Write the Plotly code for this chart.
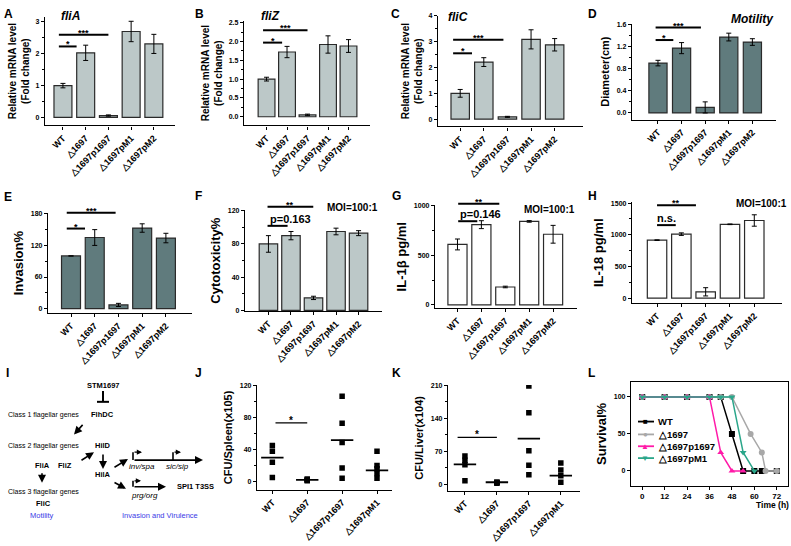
import plotly.graph_objects as go

W, H = 791, 546
FONT = "Liberation Sans, Arial, sans-serif"

# ---------------- data ----------------
strains5 = ["WT", "△1697", "△1697p1697", "△1697pM1", "△1697pM2"]
strains4 = ["WT", "△1697", "△1697p1697", "△1697pM1"]

fliA_mean = [1.00, 2.03, 0.06, 2.70, 2.31]
fliA_sd = [0.07, 0.24, 0.02, 0.32, 0.30]
fliZ_mean = [1.00, 1.72, 0.05, 1.92, 1.88]
fliZ_sd = [0.05, 0.15, 0.02, 0.23, 0.17]
fliC_mean = [1.00, 2.21, 0.09, 3.09, 2.88]
fliC_sd = [0.15, 0.17, 0.02, 0.37, 0.24]
motility_mean = [0.90, 1.17, 0.10, 1.37, 1.28]
motility_sd = [0.05, 0.10, 0.10, 0.07, 0.06]
invasion_mean = [100, 135, 7, 153, 134]
invasion_sd = [0, 15, 3, 8, 9]
cytotox_mean = [80, 90, 15, 95, 93]
cytotox_sd = [10, 5, 2, 4, 3]
il1b_mean = [610, 810, 180, 843, 713]
il1b_sd = [55, 40, 8, 8, 90]
il18_mean = [915, 1010, 100, 1165, 1225]
il18_sd = [5, 20, 65, 5, 90]

spleen_points = [[45, 38, 24, 5], [3, 2, 1, 2], [107, 73, 49, 17, 4], [38, 20, 16, 10, 4]]
spleen_mean = [30, 2, 52, 14]
liver_points = [[60, 51, 41, 7], [4, 3, 2, 4], [209, 152, 71, 40, 20], [45, 30, 18, 4]]
liver_mean = [42, 4, 97, 18]

surv_names = ["WT", "△1697", "△1697p1697", "△1697pM1"]
surv_hours = [
    [0, 12, 24, 36, 42, 48, 54, 60, 64, 72],
    [0, 12, 24, 36, 42, 48, 58, 64, 66, 72],
    [0, 12, 24, 36, 42, 48, 54],
    [0, 12, 24, 36, 42, 48, 54, 60],
]
surv_values = [
    [100, 100, 100, 100, 100, 50, 0, 0, 0, 0],
    [100, 100, 100, 100, 100, 100, 50, 25, 0, 0],
    [100, 100, 100, 100, 25, 0, 0],
    [100, 100, 100, 100, 100, 100, 25, 0],
]
surv_colors = ["#000000", "#a8a8a8", "#ff1aa8", "#2aa68a"]
surv_symbols = ["square", "circle", "triangle-up", "triangle-down"]

# ---------------- geometry (pixels) ----------------
geom = {
    "A": dict(x=(45, 175), y=(13, 123), xr=(-0.79, 4.93), yr=(-0.25, 3.16), bw=0.79),
    "B": dict(x=(244, 370), y=(17, 123), xr=(-1.1, 5.05), yr=(-0.23, 2.55), bw=0.82),
    "C": dict(x=(438, 583), y=(12, 124), xr=(-0.94, 5.2), yr=(-0.28, 4.0), bw=0.78),
    "D": dict(x=(632, 776), y=(20, 117), xr=(-1.1, 5.0), yr=(-0.118, 1.61), bw=0.77),
    "E": dict(x=(48, 192), y=(212, 313), xr=(-0.97, 5.1), yr=(-8.3, 181), bw=0.8),
    "F": dict(x=(245, 382), y=(209, 311), xr=(-1.04, 5.04), yr=(-0.8, 120.5), bw=0.82),
    "G": dict(x=(435, 577), y=(204, 308), xr=(-0.94, 5.0), yr=(-33, 1005), bw=0.8),
    "H": dict(x=(632, 782), y=(201, 303), xr=(-1.03, 5.14), yr=(-78, 1510), bw=0.8),
    "J": dict(x=(257, 392), y=(386, 492), xr=(-0.44, 3.43), yr=(-10.3, 121)),
    "K": dict(x=(448, 580), y=(386, 493), xr=(-0.53, 3.6), yr=(-14, 211)),
    "L": dict(x=(631, 788), y=(383, 488), xr=(-6, 78), yr=(-20, 120)),
}

fig = go.Figure()
layout = {}
ann = []
shp = []


def names(n):
    s = "" if n == 1 else str(n)
    return "x" + s, "y" + s, "xaxis" + s, "yaxis" + s


def to_paper(key, xv, yv):
    g = geom[key]
    x0, x1 = g["x"]
    yt, yb = g["y"]
    r0, r1 = g["xr"]
    s0, s1 = g["yr"]
    px = x0 + (xv - r0) / (r1 - r0) * (x1 - x0)
    py = yb - (yv - s0) / (s1 - s0) * (yb - yt)
    return px / W, 1 - py / H


def P(x, y):
    return x / W, 1 - y / H


def axes(n, key, cats, ytitle, ytsize, yticks, yfmt, minor, cat_axis=True, box=False):
    g = geom[key]
    xa, ya, xn, yn = names(n)
    xd = dict(domain=[g["x"][0] / W, g["x"][1] / W], range=list(g["xr"]), anchor=ya,
              showline=True, linecolor="black", linewidth=1.3, mirror=box,
              ticks="outside", ticklen=3, tickcolor="black", tickwidth=1,
              tickfont=dict(size=9, family=FONT, weight="bold", color="black"),
              showgrid=False, zeroline=False, fixedrange=True)
    if cat_axis:
        xd.update(type="category", categoryorder="array", categoryarray=cats, tickangle=-45)
    else:
        xd["tickfont"]["size"] = 8
    yd = dict(domain=[1 - g["y"][1] / H, 1 - g["y"][0] / H], range=list(g["yr"]), anchor=xa,
              showline=True, linecolor="black", linewidth=1.3, mirror=box,
              ticks="outside", ticklen=3, tickcolor="black", tickwidth=1,
              tickvals=yticks, tickformat=yfmt,
              tickfont=dict(size=7, family=FONT, weight="bold", color="black"),
              title=dict(text=ytitle, font=dict(size=ytsize, family=FONT, weight="bold", color="black"), standoff=4),
              showgrid=False, zeroline=False, fixedrange=True)
    if minor:
        yd["minor"] = dict(dtick=minor, ticklen=2, ticks="outside", tickcolor="black", showgrid=False)
    layout[xn] = xd
    layout[yn] = yd


def bar_panel(n, key, means, sds, color, ytitle, ytsize, yticks, yfmt, minor):
    g = geom[key]
    xa, ya, _, _ = names(n)
    fig.add_trace(go.Bar(
        x=strains5, y=means, width=g["bw"], xaxis=xa, yaxis=ya, showlegend=False,
        marker=dict(color=color, line=dict(color="#2a2a2a", width=1.2)),
        error_y=dict(type="data", array=sds, color="black", thickness=1, width=2.5)))
    axes(n, key, strains5, ytitle, ytsize, yticks, yfmt, minor)


def sig(key, label, x0, x1, y, size=9, anchor="center", lw=2.0, shift=-5):
    ax0, ay = to_paper(key, x0, y)
    ax1, _ = to_paper(key, x1, y)
    shp.append(dict(type="line", xref="paper", yref="paper", x0=ax0, x1=ax1, y0=ay, y1=ay,
                    line=dict(color="black", width=lw)))
    if label:
        xpos = (ax0 + ax1) / 2 if anchor == "center" else ax0
        ann.append(dict(text="<b>%s</b>" % label, xref="paper", yref="paper", x=xpos, y=ay,
                        xanchor=anchor, yanchor="bottom", yshift=shift, showarrow=False,
                        font=dict(size=size, family=FONT, color="black")))


def text(t, x, y, size=8, color="black", xanchor="center", yanchor="middle"):
    xx, yy = P(x, y)
    ann.append(dict(text=t, xref="paper", yref="paper", x=xx, y=yy, xanchor=xanchor, yanchor=yanchor,
                    showarrow=False, font=dict(size=size, family=FONT, color=color)))


LIGHT = "#bcc8c8"
DARK = "#607b7d"

# Row 1
bar_panel(1, "A", fliA_mean, fliA_sd, LIGHT, "Relative mRNA level<br>(Fold change)", 10, [0, 1, 2, 3], "d", 0.5)
bar_panel(2, "B", fliZ_mean, fliZ_sd, LIGHT, "Relative mRNA level<br>(Fold change)", 10, [0, 0.5, 1, 1.5, 2, 2.5], ".1f", 0.25)
bar_panel(3, "C", fliC_mean, fliC_sd, LIGHT, "Relative mRNA level<br>(Fold change)", 10, [0, 1, 2, 3, 4], "d", 0.5)
bar_panel(4, "D", motility_mean, motility_sd, DARK, "Diameter(cm)", 11, [0, 0.4, 0.8, 1.2, 1.6], ".1f", 0.2)
# Row 2
bar_panel(5, "E", invasion_mean, invasion_sd, DARK, "Invasion%", 13, [0, 60, 120, 180], "d", 30)
bar_panel(6, "F", cytotox_mean, cytotox_sd, LIGHT, "Cytotoxicity%", 13, [0, 40, 80, 120], "d", 20)
bar_panel(7, "G", il1b_mean, il1b_sd, "white", "IL-1β pg/ml", 13, [0, 500, 1000], "d", 250)
bar_panel(8, "H", il18_mean, il18_sd, "white", "IL-18 pg/ml", 13, [0, 500, 1000, 1500], "d", 250)

# significance marks
sig("A", "*", -0.18, 0.6, 2.23)
sig("A", "***", -0.18, 2.0, 2.6)
sig("B", "*", -0.17, 0.76, 1.97)
sig("B", "***", -0.17, 2.0, 2.3)
sig("C", "*", -0.3, 0.5, 2.55)
sig("C", "***", -0.3, 1.83, 3.07)
sig("D", "*", -0.1, 0.65, 1.316)
sig("D", "***", -0.1, 1.82, 1.54)
sig("E", "*", -0.18, 0.59, 152)
sig("E", "***", -0.18, 1.88, 182)
sig("F", "p=0.163", -0.04, 0.85, 101.8, size=11, anchor="left", shift=-1)
sig("F", "**", -0.04, 1.99, 124.7)
sig("G", "p=0.146", 0.03, 0.83, 845, size=11, anchor="left", shift=-1)
sig("G", "**", 0.03, 1.75, 1021)
sig("H", "n.s.", 0.0, 0.77, 1152, size=11, shift=-1)
sig("H", "**", 0.0, 1.6, 1464)

# Panel titles / notes
text("<b><i>fliA</i></b>", 70, 12, 12)
text("<b><i>fliZ</i></b>", 270, 12, 12)
text("<b><i>fliC</i></b>", 458, 13, 12)
text("<b><i>Motility</i></b>", 752, 15, 12)
text("<b>MOI=100:1</b>", 352, 206, 10)
text("<b>MOI=100:1</b>", 549, 208, 10)
text("<b>MOI=100:1</b>", 761, 202, 10)

# Panel letters
for lab, x, y in [("A", 8, 10), ("B", 200, 10), ("C", 395, 10), ("D", 592, 10),
                  ("E", 8, 195), ("F", 199, 194), ("G", 396, 194), ("H", 592, 194),
                  ("I", 7, 374), ("J", 199, 374), ("K", 396, 374), ("L", 591, 374)]:
    text("<b>%s</b>" % lab, x, y, 12)

# Row 3: J, K scatter
for n, key, pts, means, ytitle, yticks, minor in [
        (9, "J", spleen_points, spleen_mean, "CFU/Spleen(x105)", [0, 40, 80, 120], 20),
        (10, "K", liver_points, liver_mean, "CFU/Liver(x104)", [0, 70, 140, 210], 35)]:
    xa, ya, _, _ = names(n)
    for i, vals in enumerate(pts):
        fig.add_trace(go.Scatter(x=[strains4[i]] * len(vals), y=vals, mode="markers", xaxis=xa, yaxis=ya,
                                 showlegend=False,
                                 marker=dict(symbol="square", size=5.5, color="black")))
    fig.add_trace(go.Scatter(x=strains4, y=means, mode="markers", xaxis=xa, yaxis=ya, showlegend=False,
                             marker=dict(symbol="line-ew", size=16, line=dict(width=1.8, color="black"))))
    axes(n, key, strains4, ytitle, 11, yticks, "d", minor)

sig("J", "*", 0.09, 1.0, 73.6, size=10, lw=1.3, shift=-5)
sig("K", "*", -0.23, 1.0, 99.7, size=10, lw=1.3, shift=-5)

# Panel L: survival
for i in range(4):
    fig.add_trace(go.Scatter(x=surv_hours[i], y=surv_values[i], mode="lines+markers", name=surv_names[i],
                             xaxis="x11", yaxis="y11", showlegend=False,
                             line=dict(color=surv_colors[i], width=1.5),
                             marker=dict(symbol=surv_symbols[i], size=6, color=surv_colors[i])))
axes(11, "L", None, "Survival%", 13, [0, 50, 100], "d", None, cat_axis=False, box=True)
layout["xaxis11"].update(tickvals=[0, 12, 24, 36, 48, 60, 72])
text("<b>Time (h)</b>", 791, 507, 8.5, xanchor="right")

# manual legend for L
for i, (yy) in enumerate([423, 436, 448, 460]):
    x0, y0 = P(638, yy)
    x1, _ = P(654, yy)
    shp.append(dict(type="line", xref="paper", yref="paper", x0=x0, x1=x1, y0=y0, y1=y0,
                    line=dict(color=surv_colors[i], width=1.8)))
    glyph = ["■", "●", "▲", "▼"][i]
    text('<span style="color:%s">%s</span>' % (surv_colors[i], glyph), 645, yy, 8)
    text("<b>%s</b>" % surv_names[i], 656, yy, 9.5, xanchor="left")

# ---------------- Panel I: diagram ----------------
BLUE = "#3a3ae6"
text("<b>STM1697</b>", 103, 386, 7.5)
text("Class 1 flagellar genes", 43, 416, 7)
text("<b>FlhDC</b>", 102, 416, 7.5)
text("Class 2 flagellar genes", 43, 448, 7)
text("<b>HilD</b>", 103, 447, 7.5)
text("<b>FliA</b>", 42, 467, 7.5)
text("<b>FliZ</b>", 65, 467, 7.5)
text("<b>HilA</b>", 103, 477, 7.5)
text("Class 3 flagellar genes", 43, 494, 7)
text("<b>FliC</b>", 43, 506, 7.5)
text("Motility", 42, 518, 7.5, color=BLUE)
text("<i>inv/spa</i>", 142, 469, 8)
text("<i>sic/sip</i>", 177, 469, 8)
text("<i>prg/org</i>", 144, 498, 8)
text("<b>SPI1 T3SS</b>", 175, 489, 7.5, xanchor="left")
text("Invasion and Virulence", 160, 518, 7.5, color=BLUE)


def arrow(tx, ty, hx, hy, w=1.6, size=1.0):
    xx, yy = P(hx, hy)
    ann.append(dict(x=xx, y=yy, xref="paper", yref="paper", ax=tx - hx, ay=ty - hy, text="",
                    showarrow=True, arrowhead=2, arrowsize=size, arrowwidth=w, arrowcolor="black"))


def line(x0, y0, x1, y1, w=1.6):
    a, b = P(x0, y0)
    c, d = P(x1, y1)
    shp.append(dict(type="line", xref="paper", yref="paper", x0=a, y0=b, x1=c, y1=d,
                    line=dict(color="black", width=w)))


arrow(84, 425, 74, 436)
arrow(80, 463, 94, 454)
arrow(103, 455, 103, 471)
arrow(42, 474, 42, 485)
arrow(113, 470, 128, 461)
arrow(113, 484, 126, 491)
# inhibition T-bar
line(103, 392, 103, 403, 2)
line(97, 403, 109, 403, 2)
# promoters
line(133, 462, 133, 454)
arrow(133, 454, 142, 454, w=1.3, size=0.8)
line(173, 462, 173, 454)
arrow(173, 454, 181, 454, w=1.3, size=0.8)
arrow(133, 462, 203, 462)
line(133, 489, 133, 483)
arrow(133, 483, 141, 483, w=1.3, size=0.8)
arrow(133, 489, 166, 489)

layout.update(dict(width=W, height=H, margin=dict(l=0, r=0, t=0, b=0), autosize=False,
                   plot_bgcolor="white", paper_bgcolor="white", showlegend=False,
                   bargap=0.2, annotations=ann, shapes=shp,
                   font=dict(family=FONT, color="black")))
fig.update_layout(**layout)
fig.write_html("out.html", config={"displayModeBar": False},
               post_script="document.body.style.margin='0';document.body.style.overflow='hidden';")
